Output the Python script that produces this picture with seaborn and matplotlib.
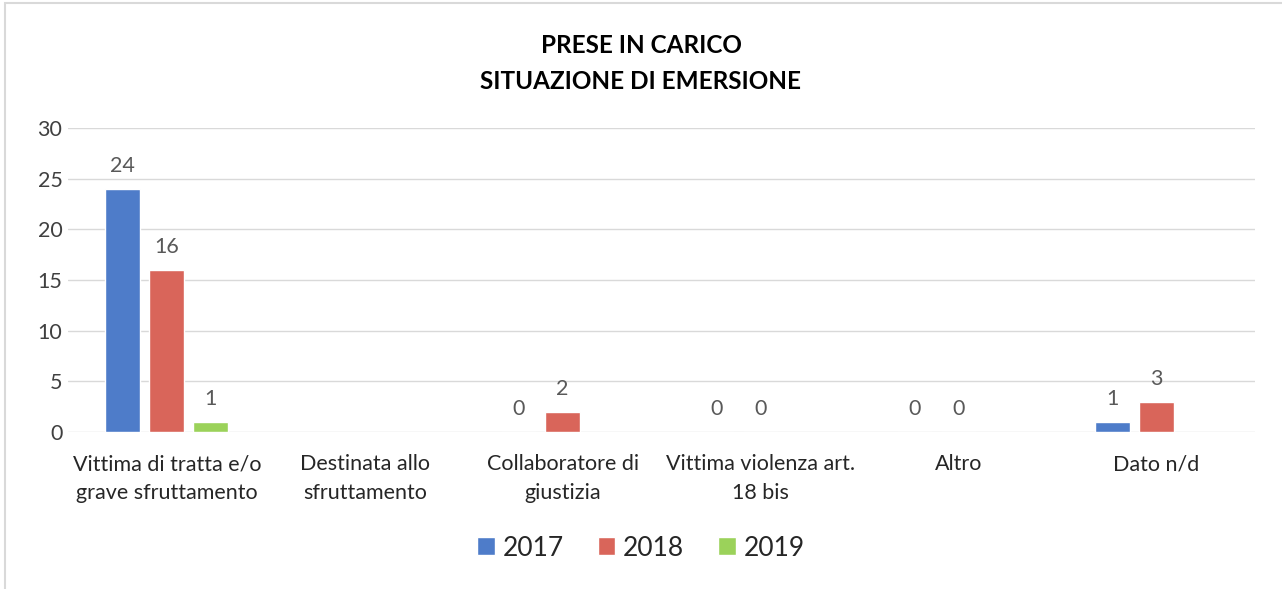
import numpy as np
import pandas as pd
import matplotlib
matplotlib.use("Agg")
import matplotlib.pyplot as plt
import seaborn as sns

categories = ["Vittima di tratta e/o\ngrave sfruttamento", "Destinata allo\nsfruttamento",
              "Collaboratore di\ngiustizia", "Vittima violenza art.\n18 bis", "Altro", "Dato n/d"]
years = ["2017", "2018", "2019"]
v2017 = [24, np.nan, 0, 0, 0, 1]
v2018 = [16, np.nan, 2, 0, 0, 3]
v2019 = [1, np.nan, np.nan, np.nan, np.nan, np.nan]
colors = ["#4E7CC9", "#D9655A", "#9BD25A"]
title = "PRESE IN CARICO\nSITUAZIONE DI EMERSIONE"
yticks = [0, 5, 10, 15, 20, 25, 30]

sns.set_theme(style="white")
plt.rcParams["font.family"] = ["Lato", "DejaVu Sans"]

rows = []
for y, vals in zip(years, [v2017, v2018, v2019]):
    for c, v in zip(categories, vals):
        rows.append({"cat": c, "year": y, "val": v})
df = pd.DataFrame(rows)

fig = plt.figure(figsize=(12.82, 5.89), dpi=100)
ax = fig.add_axes([0.053, 0.2666, 0.926, 0.5164])
sns.barplot(data=df, x="cat", y="val", hue="year", order=categories, hue_order=years,
            palette=colors, saturation=1, width=0.667, gap=0.2, ax=ax, errorbar=None,
            legend=True)

ax.set_ylim(0, 30)
ax.set_xlim(-0.5, 5.5)
ax.set_yticks(yticks)
ax.yaxis.grid(True, color="#D9D9D9", linewidth=1)
ax.set_axisbelow(True)
for s in ax.spines.values():
    s.set_visible(False)
ax.set_xlabel("")
ax.set_ylabel("")
ax.tick_params(axis="y", labelsize=15.5, colors="#404040", pad=4, length=0)
ax.tick_params(axis="x", labelsize=15.5, colors="#262626", pad=16, length=0)
for lab in ax.get_xticklabels():
    lab.set_linespacing(1.55)

for cont in ax.containers:
    labels = ["" if np.isnan(v) else f"{v:g}" for v in cont.datavalues]
    ax.bar_label(cont, labels=labels, padding=9, fontsize=15.5, color="#595959")

h, l = ax.get_legend_handles_labels()
ax.legend(h, l, loc="center", bbox_to_anchor=(0.5, 0.0696), bbox_transform=fig.transFigure,
          ncol=3, frameon=False, fontsize=19, handlelength=0.65, handleheight=0.65,
          handletextpad=0.3, columnspacing=1.3)

fig.text(0.5, 0.892, title, ha="center", va="center", fontsize=17.5, fontweight="bold",
         color="#000000", linespacing=1.7)

border = plt.Rectangle((5 / 1282, -0.1), 1.2, 1.1 - 3 / 589, transform=fig.transFigure,
                       fill=False, edgecolor="#D9D9D9", linewidth=1.5)
fig.patches.append(border)

fig.savefig("out.png", dpi=100, facecolor="white")
